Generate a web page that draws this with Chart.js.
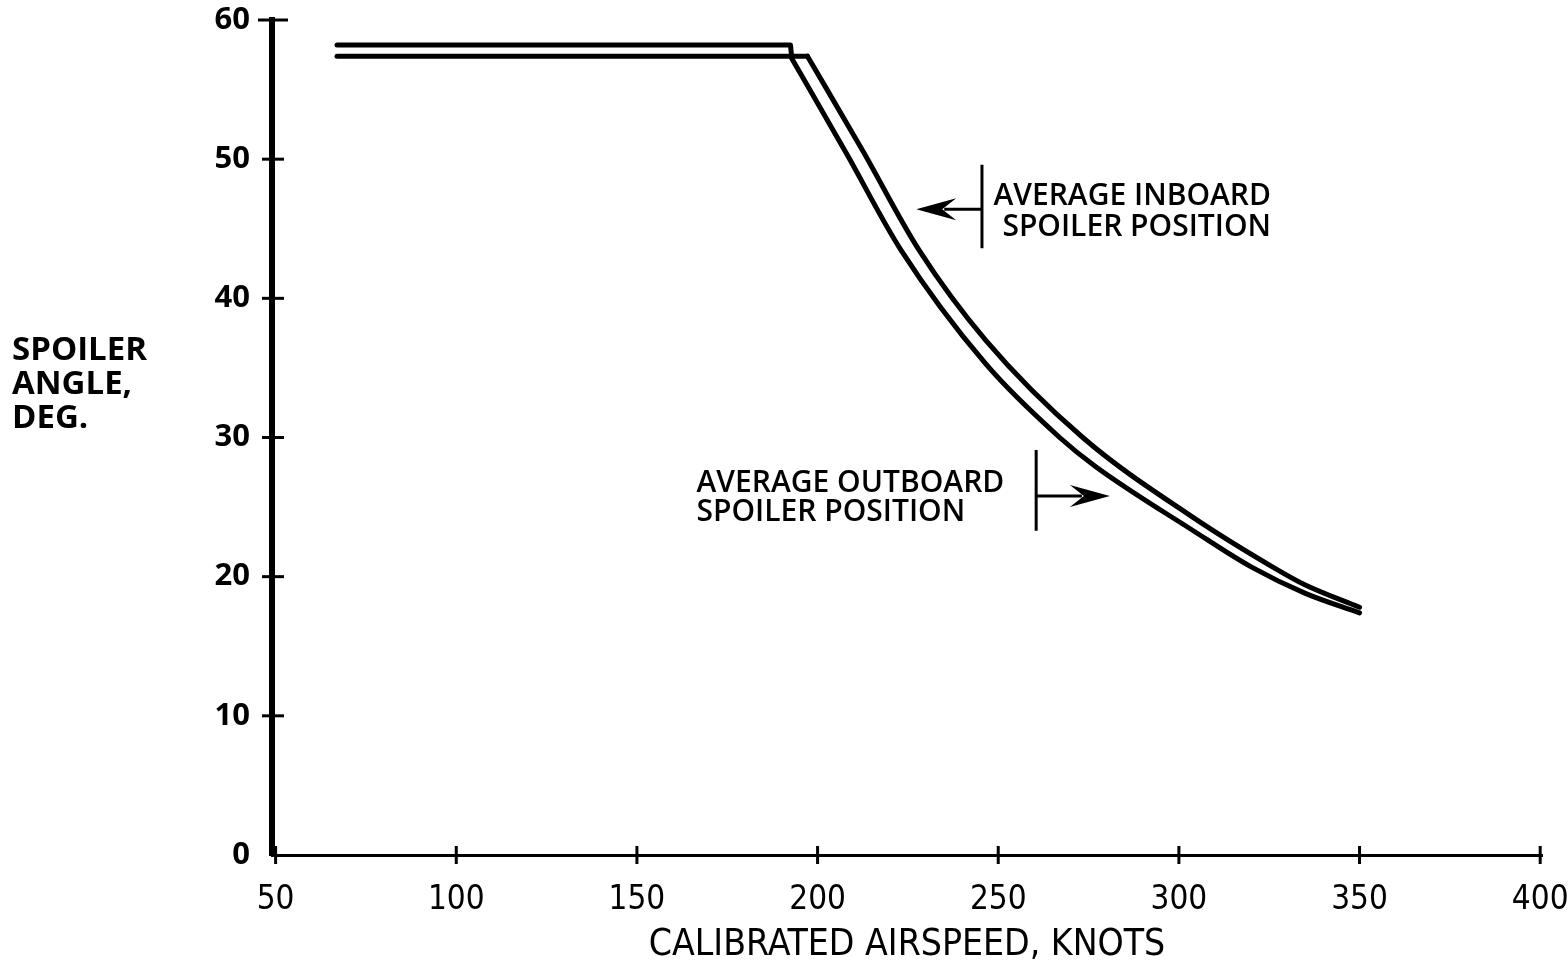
<!DOCTYPE html>
<html>
<head>
<meta charset="utf-8">
<script src="https://cdn.jsdelivr.net/npm/chart.js@4.4.0/dist/chart.umd.min.js"></script>
<style>
  html, body { margin: 0; padding: 0; background: #fff; }
  #wrap { width: 1568px; height: 971px; }
</style>
</head>
<body>
<div id="wrap"><canvas id="spoilerChart" width="1568" height="971"></canvas></div>
<script>
// values (knots / degrees)
var inboardSpeed  = [67, 192.5, 192.8, 197.2, 212.5, 228, 246.5, 273.4, 303.7, 326.6, 335, 350];
var inboardAngle  = [58.2, 58.2, 57.4, 57.4, 50.6, 43.5, 37.0, 30.0, 24.3, 20.6, 19.4, 17.8];
var outboardSpeed = [67, 192.5, 208, 223, 246.5, 267, 277, 304, 320, 335, 350];
var outboardAngle = [57.4, 57.4, 50.4, 43.5, 35.3, 30.0, 27.9, 23.3, 20.7, 18.8, 17.4];
var xTicks = [50, 100, 150, 200, 250, 300, 350, 400];
var yTicks = [0, 10, 20, 30, 40, 50, 60];
var yTitleLines = ['SPOILER', 'ANGLE,', 'DEG.'];
var xTitle = 'CALIBRATED AIRSPEED, KNOTS';
var inboardLabel = ['AVERAGE INBOARD', 'SPOILER POSITION'];
var outboardLabel = ['AVERAGE OUTBOARD', 'SPOILER POSITION'];

(function(){
  var boldFont = '"Open Sans", "Noto Sans", sans-serif';
  var narrowFont = '"Liberation Sans Narrow", "DejaVu Sans Condensed", "Open Sans", sans-serif';

  function pts(xs, ys, from, to){
    var out = [];
    for(var i = from; i <= to; i++) out.push({ x: xs[i], y: ys[i] });
    return out;
  }

  // where the callouts sit, in data units
  var callouts = [
    { lines: inboardLabel, textX: 325.5, textY: [47.3, 45.1], align: 'right',
      barX: 245.5, barY: [49.6, 43.6], arrowY: 46.4, tipX: 227.3 },
    { lines: outboardLabel, textX: 166.5, textY: [26.7, 24.6], align: 'left',
      barX: 260.5, barY: [29.1, 23.3], arrowY: 25.8, tipX: 280.9 }
  ];

  function line(ctx, x1, y1, x2, y2){
    ctx.beginPath(); ctx.moveTo(x1, y1); ctx.lineTo(x2, y2); ctx.stroke();
  }

  function arrowHead(ctx, tx, ty, dir){
    // dir = -1 pointing left, 1 pointing right
    ctx.beginPath();
    ctx.moveTo(tx, ty);
    ctx.lineTo(tx - dir*40, ty - 11);
    ctx.lineTo(tx - dir*26, ty);
    ctx.lineTo(tx - dir*40, ty + 11);
    ctx.closePath();
    ctx.fill();
  }

  var decorPlugin = {
    id: 'decor',
    afterDraw: function(chart){
      var ctx = chart.ctx, xs = chart.scales.x, ys = chart.scales.y, area = chart.chartArea;
      ctx.save();
      ctx.strokeStyle = '#000';
      ctx.fillStyle = '#000';

      // tick marks crossing the axes
      ctx.lineWidth = 3;
      xs.ticks.forEach(function(t){
        var px = xs.getPixelForValue(t.value);
        line(ctx, px, area.bottom - 9, px, area.bottom + 9);
      });
      ys.ticks.forEach(function(t){
        var py = ys.getPixelForValue(t.value);
        if(t.value === 0) return;
        var w = t.value === 60 ? 14 : 10;
        line(ctx, area.left - w, py, area.left + w + 2, py);
      });

      // y axis title, horizontal lines on the left
      ctx.font = 'bold 33px ' + boldFont;
      ctx.textAlign = 'left';
      ctx.textBaseline = 'middle';
      yTitleLines.forEach(function(s, i){
        ctx.fillText(s, 12, 351 + i*34);
      });

      // callouts with bar and arrow
      ctx.font = '600 30px ' + boldFont;
      callouts.forEach(function(c){
        var tx = xs.getPixelForValue(c.textX);
        ctx.textAlign = c.align;
        c.lines.forEach(function(s, i){
          ctx.fillText(s, tx, ys.getPixelForValue(c.textY[i]));
        });
        var bx = xs.getPixelForValue(c.barX);
        ctx.lineWidth = 3;
        line(ctx, bx, ys.getPixelForValue(c.barY[0]), bx, ys.getPixelForValue(c.barY[1]));
        var ay = ys.getPixelForValue(c.arrowY);
        var tip = xs.getPixelForValue(c.tipX);
        var dir = tip < bx ? -1 : 1;
        line(ctx, bx, ay, tip - dir*28, ay);
        arrowHead(ctx, tip, ay, dir);
      });
      ctx.restore();
    }
  };

  function lineSet(label, data, smooth){
    return {
      label: label,
      data: data,
      parsing: false,
      borderColor: '#000',
      borderWidth: 5,
      pointRadius: 0,
      fill: false,
      tension: 0,
      cubicInterpolationMode: smooth ? 'monotone' : 'default',
      borderCapStyle: 'round',
      borderJoinStyle: 'round'
    };
  }

  // the flat part and the falling curve meet at a sharp corner,
  // so each series is split there and only the curve is smoothed
  var inLast = inboardSpeed.length - 1, outLast = outboardSpeed.length - 1;
  var datasets = [
    lineSet('Average inboard spoiler position', pts(inboardSpeed, inboardAngle, 0, 3), false),
    lineSet('Average inboard spoiler position', pts(inboardSpeed, inboardAngle, 3, inLast), true),
    lineSet('Average outboard spoiler position', pts(outboardSpeed, outboardAngle, 0, 1), false),
    lineSet('Average outboard spoiler position', pts(outboardSpeed, outboardAngle, 1, outLast), true)
  ];

  new Chart(document.getElementById('spoilerChart').getContext('2d'), {
    type: 'line',
    data: { datasets: datasets },
    options: {
      responsive: false,
      animation: false,
      layout: { padding: { left: 0, right: 26, top: 20, bottom: 0 } },
      plugins: { legend: { display: false }, tooltip: { enabled: false } },
      scales: {
        x: {
          type: 'linear',
          min: 49,
          max: 400.5,
          afterBuildTicks: function(s){ s.ticks = xTicks.map(function(v){ return { value: v }; }); },
          afterFit: function(s){
            s.height = 116;
            s.paddingLeft = 0; s.paddingRight = 0;
          },
          grid: { display: false, drawTicks: false },
          border: { display: true, color: '#000', width: 3 },
          ticks: {
            color: '#000',
            padding: 26,
            maxRotation: 0,
            autoSkip: false,
            font: { family: narrowFont, size: 33 }
          },
          title: {
            display: true,
            text: xTitle,
            color: '#000',
            padding: { top: 0, bottom: 3 },
            font: { family: narrowFont, size: 37 }
          }
        },
        y: {
          min: 0,
          max: 60,
          afterBuildTicks: function(s){ s.ticks = yTicks.map(function(v){ return { value: v }; }); },
          afterFit: function(s){
            s.width = 272;
            s.paddingTop = 0; s.paddingBottom = 0;
          },
          grid: { display: false, drawTicks: false },
          border: { display: true, color: '#000', width: 6 },
          ticks: {
            color: '#000',
            padding: 22,
            font: { family: boldFont, size: 31, weight: 'bold' }
          }
        }
      }
    },
    plugins: [decorPlugin]
  });
})();
</script>
</body>
</html>
